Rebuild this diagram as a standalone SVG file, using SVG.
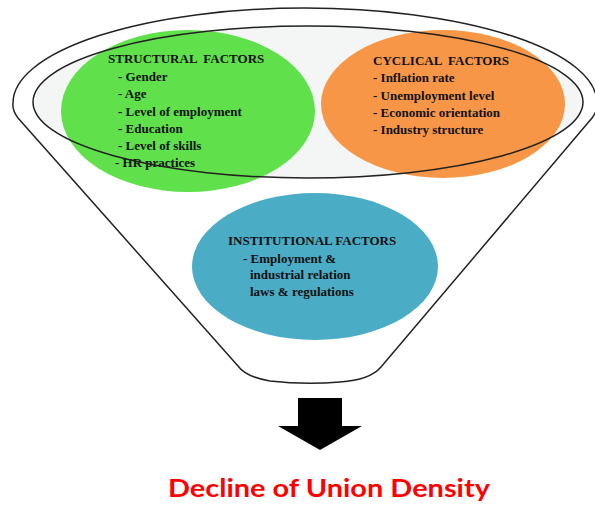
<svg xmlns="http://www.w3.org/2000/svg" width="595" height="505" viewBox="0 0 595 505">
<style>
.t{font-family:"Liberation Serif","Times New Roman",serif;font-weight:bold;font-size:13px;fill:#111}
.ln{fill:none;stroke:#222;stroke-width:1.5}
</style>
<rect width="595" height="505" fill="#fff"/>
<g id="funnel">
<path class="ln" d="M 238,366 L 18,118 Q 12,110 13,103 A 292 95 0 0 1 597,103 Q 598,110 592,118 L 381,367 Q 370,380 340,382 Q 305,385 270,381 Q 246,377 238,366 Z"/>
<ellipse cx="308" cy="102" rx="275" ry="76" fill="#f4f6f6"/>
</g>
<g id="structural">
<ellipse cx="188" cy="111" rx="127" ry="81" fill="#60e04a"/>
<text class="t" x="108" y="63" xml:space="preserve">STRUCTURAL  FACTORS</text>
<text class="t" x="118" y="81">- Gender</text>
<text class="t" x="118" y="98">- Age</text>
<text class="t" x="118" y="115.5">- Level of employment</text>
<text class="t" x="118" y="132.5">- Education</text>
<text class="t" x="118" y="149.5">- Level of skills</text>
<text class="t" x="115" y="166.5">- HR practices</text>
</g>
<g id="cyclical">
<ellipse cx="443" cy="104" rx="122" ry="74" fill="#f79646"/>
<text class="t" x="373" y="65" xml:space="preserve">CYCLICAL  FACTORS</text>
<text class="t" x="373" y="82">- Inflation rate</text>
<text class="t" x="373" y="100">- Unemployment level</text>
<text class="t" x="373" y="117">- Economic orientation</text>
<text class="t" x="373" y="133.5">- Industry structure</text>
</g>
<g id="inner-ring">
<ellipse class="ln" cx="308" cy="102" rx="275" ry="76"/>
</g>
<g id="institutional">
<ellipse cx="315" cy="266.5" rx="123" ry="73.5" fill="#4bacc6"/>
<text class="t" x="228" y="245">INSTITUTIONAL FACTORS</text>
<text class="t" x="243" y="263">- Employment &amp;</text>
<text class="t" x="250" y="279">industrial relation</text>
<text class="t" x="250" y="296">laws &amp; regulations</text>
</g>
<g id="connectors">
<path d="M 298,398 H 342 V 426 H 362 L 320,450 L 278,426 H 298 Z" fill="#000"/>
</g>
<g id="result">
<text x="168" y="497" font-family="Lato,'Open Sans',sans-serif" font-weight="bold" font-size="25" fill="#ff0000" textLength="322" lengthAdjust="spacingAndGlyphs">Decline of Union Density</text>
</g>
</svg>
